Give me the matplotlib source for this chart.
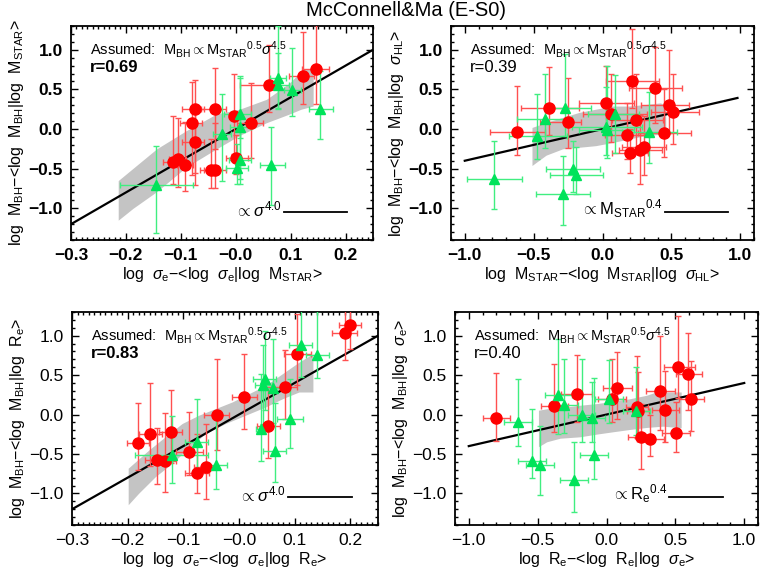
import numpy as np
import matplotlib
matplotlib.use("Agg")
import matplotlib.pyplot as plt
from matplotlib.ticker import MultipleLocator

plt.rcParams['font.family'] = ['Liberation Sans', 'DejaVu Sans']
plt.rcParams['mathtext.fontset'] = 'custom'
plt.rcParams['mathtext.rm'] = 'Liberation Sans'
plt.rcParams['mathtext.it'] = 'Liberation Sans:italic'
plt.rcParams['mathtext.bf'] = 'Liberation Sans:bold'

# each row: x, y, x err (-), x err (+), y err (-), y err (+)
p1_red = [
    (-0.114, -0.41, 0.018, 0.018, 0.28, 0.58), (-0.106, -0.375, 0.015, 0.015, 0.36, 0.52),
    (-0.092, -0.45, 0.015, 0.015, 0.33, 0.54), (-0.079, 0.075, 0.022, 0.018, 0.65, 0.52),
    (-0.075, 0.25, 0.022, 0.018, 0.80, 0.37), (-0.075, -0.16, 0.022, 0.018, 0.55, 0.45),
    (-0.038, 0.25, 0.025, 0.020, 0.50, 0.52), (-0.045, -0.52, 0.020, 0.015, 0.23, 0.40),
    (-0.038, -0.52, 0.020, 0.020, 0.22, 0.60), (-0.003, 0.17, 0.010, 0.010, 0.48, 0.53),
    (0.001, -0.37, 0.018, 0.022, 0.20, 0.30), (0.027, 0.08, 0.025, 0.023, 0.45, 0.50),
    (0.061, 0.56, 0.053, 0.007, 0.35, 0.50), (0.122, 0.67, 0.025, 0.020, 0.35, 0.55),
    (0.147, 0.76, 0.027, 0.022, 0.45, 0.55),
]
p1_green = [
    (-0.145, -0.71, 0.065, 0.068, 0.60, 0.50), (-0.025, -0.06, 0.016, 0.017, 0.60, 0.50),
    (0.008, 0.19, 0.030, 0.020, 0.30, 0.45), (0.008, 0.02, 0.018, 0.020, 0.65, 0.65),
    (0.002, -0.49, 0.020, 0.020, 0.20, 0.30), (0.008, -0.39, 0.020, 0.020, 0.30, 0.40),
    (0.065, -0.46, 0.021, 0.024, 0.50, 0.48), (0.077, 0.65, 0.015, 0.015, 0.40, 0.65),
    (0.077, 0.56, 0.020, 0.020, 0.30, 0.40), (0.103, 0.49, 0.015, 0.015, 0.32, 0.53),
    (0.153, 0.25, 0.020, 0.025, 0.38, 0.48),
]
p2_red = [
    (-0.62, -0.033, 0.20, 0.20, 0.30, 0.57), (-0.39, 0.26, 0.20, 0.22, 0.33, 0.52),
    (-0.254, 0.095, 0.20, 0.10, 0.33, 0.55), (0.029, 0.33, 0.20, 0.20, 0.40, 0.46),
    (0.06, 0.19, 0.20, 0.26, 0.35, 0.50), (0.18, -0.075, 0.16, 0.16, 0.30, 0.40),
    (0.213, 0.61, 0.19, 0.20, 0.35, 0.65), (0.24, 0.11, 0.17, 0.20, 0.40, 0.58),
    (0.20, -0.30, 0.13, 0.13, 0.25, 0.30), (0.27, -0.27, 0.15, 0.16, 0.42, 0.45),
    (0.30, -0.23, 0.16, 0.16, 0.35, 0.40), (0.38, 0.52, 0.19, 0.20, 0.45, 0.52),
    (0.45, -0.05, 0.19, 0.19, 0.30, 0.55), (0.48, 0.30, 0.20, 0.15, 0.35, 0.70),
    (0.51, 0.21, 0.16, 0.19, 0.40, 0.48),
]
p2_green = [
    (-0.785, -0.625, 0.20, 0.20, 0.38, 0.47), (-0.476, -0.083, 0.20, 0.22, 0.30, 0.53),
    (-0.418, 0.125, 0.20, 0.20, 0.37, 0.57), (-0.273, 0.26, 0.14, 0.19, 0.35, 0.69),
    (-0.217, -0.50, 0.19, 0.20, 0.30, 0.35), (-0.193, -0.575, 0.19, 0.20, 0.25, 0.35),
    (-0.29, -0.825, 0.19, 0.20, 0.38, 0.48), (0.029, 0.03, 0.25, 0.26, 0.36, 0.50),
    (0.031, -0.01, 0.20, 0.20, 0.35, 0.80), (0.092, 0.196, 0.20, 0.17, 0.50, 0.49),
    (0.338, -0.033, 0.20, 0.20, 0.40, 0.50),
]
p3_red = [
    (-0.181, -0.357, 0.020, 0.020, 0.35, 0.50), (-0.159, -0.248, 0.021, 0.021, 0.40, 0.65),
    (-0.148, -0.576, 0.020, 0.020, 0.30, 0.40), (-0.133, -0.584, 0.021, 0.020, 0.40, 0.60),
    (-0.122, -0.218, 0.022, 0.020, 0.40, 0.53), (-0.089, -0.47, 0.024, 0.024, 0.30, 0.50),
    (-0.075, -0.744, 0.021, 0.021, 0.25, 0.50), (-0.060, -0.668, 0.020, 0.020, 0.40, 0.55),
    (-0.039, 0.0, 0.024, 0.021, 0.45, 0.70), (0.010, 0.223, 0.022, 0.022, 0.40, 0.55),
    (0.053, -0.147, 0.020, 0.020, 0.40, 0.50), (0.082, 0.349, 0.022, 0.022, 0.40, 0.47),
    (0.105, 0.769, 0.024, 0.024, 0.40, 0.50), (0.190, 1.038, 0.022, 0.022, 0.35, 0.50),
    (0.200, 1.134, 0.020, 0.020, 0.30, 0.35),
]
p3_green = [
    (-0.121, -0.513, 0.065, 0.066, 0.35, 0.50), (-0.076, -0.353, 0.020, 0.020, 0.40, 0.55),
    (-0.042, -0.639, 0.021, 0.021, 0.30, 0.60), (0.040, -0.189, 0.010, 0.010, 0.40, 0.70),
    (0.046, 0.454, 0.020, 0.020, 0.40, 0.60), (0.044, 0.38, 0.015, 0.015, 0.50, 0.50),
    (0.062, 0.34, 0.015, 0.015, 0.45, 0.62), (0.064, -0.458, 0.021, 0.021, 0.40, 0.60),
    (0.092, -0.055, 0.023, 0.023, 0.37, 0.50), (0.111, 0.882, 0.021, 0.021, 0.40, 0.50),
    (0.141, 0.76, 0.021, 0.021, 0.30, 0.55),
]
p4_red = [
    (-0.80, -0.038, 0.10, 0.10, 0.30, 0.57), (-0.378, 0.105, 0.10, 0.10, 0.33, 0.53),
    (-0.217, 0.256, 0.11, 0.11, 0.35, 0.50), (0.041, 0.20, 0.10, 0.10, 0.30, 0.50),
    (0.077, 0.34, 0.10, 0.11, 0.40, 0.45), (0.224, 0.097, 0.08, 0.08, 0.40, 0.65),
    (0.229, 0.042, 0.08, 0.08, 0.35, 0.50), (0.248, -0.29, 0.09, 0.09, 0.40, 0.42),
    (0.318, -0.31, 0.10, 0.10, 0.22, 0.30), (0.386, 0.298, 0.10, 0.11, 0.50, 0.70),
    (0.427, 0.055, 0.10, 0.10, 0.40, 0.50), (0.506, -0.24, 0.10, 0.10, 0.23, 0.40),
    (0.520, 0.605, 0.10, 0.12, 0.40, 0.65), (0.595, 0.508, 0.09, 0.10, 0.45, 0.53),
    (0.617, 0.197, 0.09, 0.09, 0.40, 0.48),
]
p4_green = [
    (-0.643, -0.10, 0.10, 0.10, 0.30, 0.55), (-0.542, -0.584, 0.10, 0.10, 0.22, 0.65),
    (-0.482, -0.639, 0.10, 0.10, 0.38, 0.50), (-0.354, 0.252, 0.09, 0.10, 0.50, 0.70),
    (-0.31, 0.118, 0.10, 0.10, 0.35, 0.58), (-0.234, -0.832, 0.10, 0.10, 0.40, 0.48),
    (-0.18, 0.0, 0.10, 0.10, 0.35, 0.70), (-0.108, -0.042, 0.10, 0.10, 0.30, 0.45),
    (-0.089, -0.513, 0.10, 0.10, 0.30, 0.98), (0.019, 0.193, 0.10, 0.10, 0.30, 0.50),
    (0.217, 0.046, 0.10, 0.10, 0.30, 0.56),
]

# gray confidence bands: (x, upper) and (x, lower)
p1_band_up = [(-0.214, -0.65), (-0.144, -0.25), (-0.090, -0.02), (-0.035, 0.19), (0.007, 0.25),
              (0.056, 0.375), (0.098, 0.58), (0.122, 0.75), (0.141, 0.77)]
p1_band_lo = [(-0.214, -1.15), (-0.187, -1.0), (-0.144, -0.79), (-0.090, -0.48), (-0.035, -0.25),
              (0.007, -0.08), (0.056, 0.08), (0.098, 0.19), (0.119, 0.25), (0.141, 0.29)]
p2_band_up = [(-0.512, 0.02), (-0.41, 0.083), (-0.29, 0.146), (-0.17, 0.21), (-0.05, 0.25),
              (0.072, 0.29), (0.193, 0.29), (0.314, 0.31), (0.42, 0.33), (0.459, 0.30)]
p2_band_lo = [(-0.512, -0.46), (-0.41, -0.33), (-0.29, -0.25), (-0.17, -0.23), (-0.05, -0.21),
              (0.072, -0.17), (0.193, -0.125), (0.314, -0.083), (0.459, -0.06)]
p3_band_up = [(-0.199, -0.68), (-0.162, -0.45), (-0.132, -0.28), (-0.102, -0.113), (-0.072, -0.008),
              (-0.042, 0.076), (-0.012, 0.16), (0.018, 0.265), (0.048, 0.37), (0.078, 0.517),
              (0.108, 0.664), (0.133, 0.77)]
p3_band_lo = [(-0.199, -1.143), (-0.18, -0.996), (-0.15, -0.786), (-0.12, -0.618), (-0.09, -0.42),
              (-0.06, -0.24), (-0.024, -0.113), (0.012, -0.008), (0.048, 0.097), (0.078, 0.2),
              (0.108, 0.286), (0.133, 0.286)]
p4_band_up = [(-0.494, 0.055), (-0.386, 0.088), (-0.289, 0.097), (-0.193, 0.118), (-0.072, 0.139),
              (0.048, 0.168), (0.169, 0.20), (0.289, 0.244), (0.361, 0.286), (0.542, 0.286)]
p4_band_lo = [(-0.494, -0.408), (-0.434, -0.345), (-0.337, -0.30), (-0.193, -0.282), (-0.072, -0.248),
              (0.048, -0.218), (0.169, -0.189), (0.289, -0.164), (0.41, -0.147), (0.542, -0.168)]

slopes = [4.0, 0.4, 4.0, 0.4]
line_ranges = [(-0.3, 0.25), (-1.0, 0.98), (-0.3, 0.25), (-1.0, 1.0)]
r_values = ['r=0.69', 'r=0.39', 'r=0.83', 'r=0.40']
r_bold = [True, False, True, False]
slope_labels = [r'$\propto\sigma^{4.0}$', r'$\propto$M$_{\rm STAR}$$^{0.4}$',
                r'$\propto\sigma^{4.0}$', r'$\propto$R$_{\rm e}$$^{0.4}$']
xlabels = [r'log  $\sigma_{\rm e}$$-$<log  $\sigma_{\rm e}$|log  M$_{\rm STAR}$>',
           r'log  M$_{\rm STAR}$$-$<log  M$_{\rm STAR}$|log  $\sigma_{\rm HL}$>',
           r'log  log  $\sigma_{\rm e}$$-$<log  $\sigma_{\rm e}$|log  R$_{\rm e}$>',
           r'log  R$_{\rm e}$$-$<log  R$_{\rm e}$|log  $\sigma_{\rm e}$>']
ylabels = [r'log  M$_{\rm BH}$$-$<log  M$_{\rm BH}$|log  M$_{\rm STAR}$>',
           r'log  M$_{\rm BH}$$-$<log  M$_{\rm BH}$|log  $\sigma_{\rm HL}$>',
           r'log  M$_{\rm BH}$$-$<log  M$_{\rm BH}$|log  R$_{\rm e}$>',
           r'log  M$_{\rm BH}$$-$<log  M$_{\rm BH}$|log  $\sigma_{\rm e}$>']
xlims = [(-0.3, 0.25), (-1.1, 1.1), (-0.3, 0.25), (-1.1, 1.1)]
xticks_narrow = [-0.3, -0.2, -0.1, 0.0, 0.1, 0.2]
xticklabels_narrow = ['\u22120.3', '\u22120.2', '\u22120.1', '\u22120.0', '0.1', '0.2']
xticks_wide = [-1.0, -0.5, 0.0, 0.5, 1.0]
xticklabels_wide = ['\u22121.0', '\u22120.5', '0.0', '0.5', '1.0']
yticks = [-1.0, -0.5, 0.0, 0.5, 1.0]
yticklabels = ['\u22121.0', '\u22120.5', '0.0', '0.5', '1.0']

reds = [p1_red, p2_red, p3_red, p4_red]
greens = [p1_green, p2_green, p3_green, p4_green]
bands = [(p1_band_up, p1_band_lo), (p2_band_up, p2_band_lo),
         (p3_band_up, p3_band_lo), (p4_band_up, p4_band_lo)]

W, H = 763, 575
# pixel boxes: left, right, top, bottom
boxes = [(71, 373, 26, 240), (451, 754, 26, 240), (72, 378, 312, 525), (455, 758, 312, 525)]

fig = plt.figure(figsize=(W / 100, H / 100), dpi=100)


def draw_points(ax, rows, color, ecolor, marker, ms):
    a = np.array(rows)
    ax.errorbar(a[:, 0], a[:, 1], xerr=[a[:, 2], a[:, 3]], yerr=[a[:, 4], a[:, 5]],
                fmt='none', ecolor=ecolor, elinewidth=1.0, capsize=2, capthick=1.0, zorder=3)
    ax.plot(a[:, 0], a[:, 1], marker, color=color, ms=ms, mec=color, zorder=4, ls='none')


for i in range(4):
    l, r, t, b = boxes[i]
    ax = fig.add_axes([l / W, 1 - b / H, (r - l) / W, (b - t) / H])
    up = np.array(bands[i][0])
    lo = np.array(bands[i][1])
    xs = np.linspace(max(up[0, 0], lo[0, 0]), min(up[-1, 0], lo[-1, 0]), 200)
    ax.fill_between(xs, np.interp(xs, lo[:, 0], lo[:, 1]), np.interp(xs, up[:, 0], up[:, 1]),
                    color='#c4c4c4', lw=0, zorder=1)
    lx = np.array(line_ranges[i])
    ax.plot(lx, slopes[i] * lx, color='black', lw=1.6, zorder=2)
    draw_points(ax, reds[i], '#ff0000', '#ff5050', 'o', 8)
    draw_points(ax, greens[i], '#00e35a', '#40ee80', '^', 7.5)

    ax.set_xlim(*xlims[i])
    ax.set_ylim(-1.4, 1.3)
    top_row = i < 2
    weight = 'bold' if top_row else 'normal'
    if i in (0, 2):
        ax.set_xticks(xticks_narrow)
        ax.set_xticklabels(xticklabels_narrow, fontsize=12.5, fontweight=weight)
        ax.xaxis.set_minor_locator(MultipleLocator(0.01))
    else:
        ax.set_xticks(xticks_wide)
        ax.set_xticklabels(xticklabels_wide, fontsize=12.5, fontweight=weight)
        ax.xaxis.set_minor_locator(MultipleLocator(0.1))
    ax.set_yticks(yticks)
    ax.set_yticklabels(yticklabels, fontsize=12.5, fontweight=weight)
    ax.yaxis.set_minor_locator(MultipleLocator(0.1))
    ax.tick_params(which='both', direction='in', top=True, right=True, width=1)
    ax.tick_params(which='major', length=5, pad=6)
    ax.tick_params(which='minor', length=2.5)
    for s in ax.spines.values():
        s.set_linewidth(1.3)
    ax.set_xlabel(xlabels[i], fontsize=11.5, labelpad=1)
    ax.set_ylabel(ylabels[i], fontsize=11.5, labelpad=2)

    ax.text(0.063, 0.89, r'Assumed:  M$_{\rm BH}$$\propto$M$_{\rm STAR}$$^{0.5}$$\sigma^{4.5}$',
            transform=ax.transAxes, fontsize=10.5, va='center', ha='left')
    ax.text(0.063, 0.805, r_values[i], transform=ax.transAxes, fontsize=12,
            fontweight='bold' if r_bold[i] else 'normal', va='center', ha='left')
    ax.text(0.70, 0.145, slope_labels[i], transform=ax.transAxes, fontsize=12,
            va='center', ha='right')
    seg_end = 0.884 if i == 3 else 0.914
    ax.plot([0.706, seg_end], [0.133, 0.133], color='black', lw=1.3, transform=ax.transAxes)

fig.text(406 / W, 1 - 11 / H, 'McConnell&Ma (E-S0)', ha='center', va='center', fontsize=14.5)

fig.savefig('out.png', dpi=100)
